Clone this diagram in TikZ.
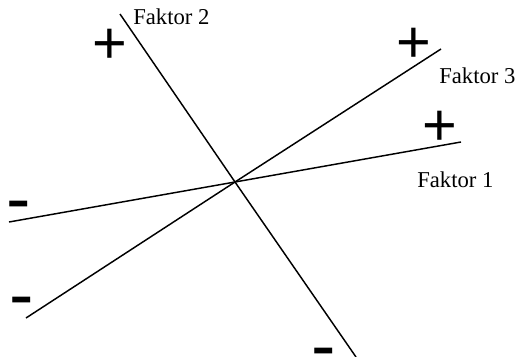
\documentclass[tikz,border=0pt]{standalone}
\usepackage{fontspec}
\setmainfont{Liberation Serif}
\newfontfamily\signfont{Liberation Sans}
\newcommand{\plusglyph}{\raisebox{-0.117em}[0.473em][0pt]{+}}
\newcommand{\minusglyph}{\raisebox{-0.231em}[0.094em][0pt]{-}}
\begin{document}
\begin{tikzpicture}[x=0.75pt,y=-0.75pt,
  axis/.style={line width=1.1pt},
  lbl/.style={inner sep=0pt,anchor=base west,font=\fontsize{17}{20}\selectfont},
  plussign/.style={inner sep=0pt,anchor=center,font=\signfont\fontsize{44.6}{44.6}\selectfont},
  minussign/.style={inner sep=0pt,anchor=center,font=\signfont\fontsize{55}{55}\selectfont}]
\useasboundingbox (0,0) rectangle (518,357);
\coordinate (c) at (235,182);
\coordinate (f2a) at (120,14);
\coordinate (f2b) at (356,357);
\coordinate (f3a) at (26,318);
\coordinate (f3b) at (441,49);
\coordinate (f1a) at (9,222);
\coordinate (f1b) at (461,142);
\draw[axis] (f2a) -- (c) -- (f2b);
\draw[axis] (f3a) -- (c) -- (f3b);
\draw[axis] (f1a) -- (c) -- (f1b);
\node[lbl] (l2) at (133,25) {Faktor 2};
\node[lbl] (l3) at (439,83) {Faktor 3};
\node[lbl] (l1) at (417,187) {Faktor 1};
\node[plussign] (p2) at (110,42) {\plusglyph};
\node[plussign] (p3) at (414,41) {\plusglyph};
\node[plussign] (p1) at (440,124) {\plusglyph};
\node[minussign] (m1) at (19,203.5) {\minusglyph};
\node[minussign] (m3) at (22,299.5) {\minusglyph};
\node[minussign] (m2) at (324,350.5) {\minusglyph};
\end{tikzpicture}
\end{document}
